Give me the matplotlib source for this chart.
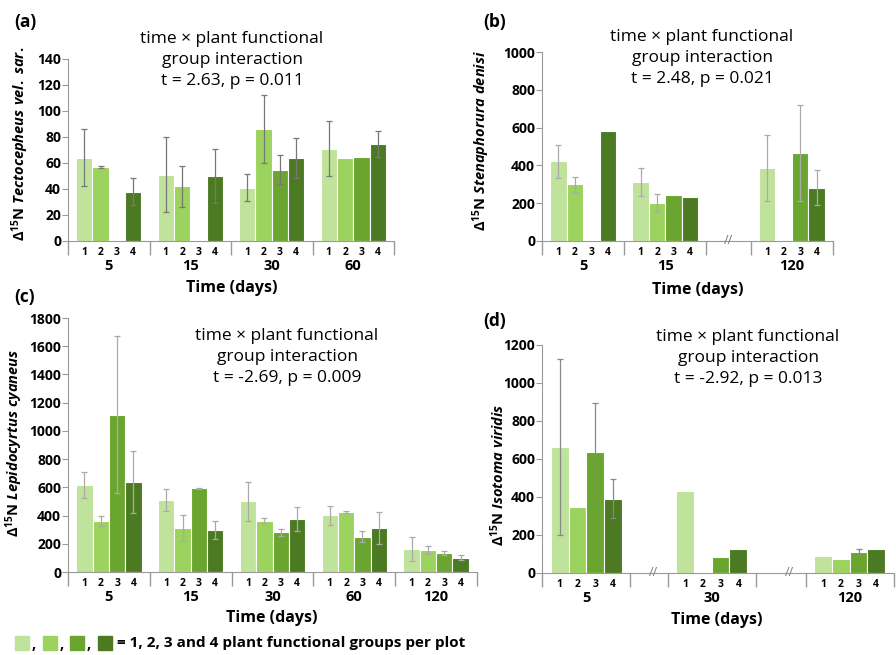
import numpy as np
import matplotlib
matplotlib.use('Agg')
import matplotlib.pyplot as plt
from matplotlib.patches import Rectangle

plt.rcParams['font.family'] = ['Open Sans', 'DejaVu Sans']
plt.rcParams['mathtext.fontset'] = 'custom'
plt.rcParams['mathtext.rm'] = 'Open Sans:bold'
plt.rcParams['mathtext.it'] = 'Open Sans:italic:bold'
plt.rcParams['mathtext.bf'] = 'Open Sans:bold'

nan = np.nan
colors = ['#bfe39a', '#9cd25e', '#6aa62f', '#4b7a22']
group_labels = ['1', '2', '3', '4']

# (a) Tectocepheus vel. sar.
a_days = ['5', '15', '30', '60']
a_mean = [[64, 57, nan, 38], [51, 42, nan, 50], [41, 86, 55, 64], [71, 64, 65, 75]]
a_err = [[22, 1, 0, 10.5], [29, 16, 0, 21], [10.5, 26, 11, 15.5], [21, 0, 0, 10]]

# (b) Stenaphorura denisi
b_days = ['5', '15', '120']
b_mean = [[421, 300, nan, 583], [312, 200, 242, 233], [385, nan, 465, 283]]
b_err = [[86, 39, 0, 0], [75, 47, 0, 0], [175, 0, 255, 95]]

# (c) Lepidocyrtus cyaneus
c_days = ['5', '15', '30', '60', '120']
c_mean = [[616, 359, 1114, 637], [510, 314, 593, 297], [500, 364, 281, 375],
          [401, 427, 250, 312], [164, 153, 135, 102]]
c_err = [[92, 35, 557, 220], [77, 92, 4, 66], [140, 20, 24, 86],
         [70, 8, 40, 113], [83, 28, 11, 16]]

# (d) Isotoma viridis
d_days = ['5', '30', '120']
d_mean = [[663, 348, 636, 392], [434, nan, 84, 128], [88, 76, 111, 128]]
d_err = [[464, 0, 258, 105], [0, 0, 0, 0], [0, 0, 15, 0]]

W, H = 896, 655
fig = plt.figure(figsize=(W / 100, H / 100), dpi=100)


def px(x, y):
    return x / W, 1 - y / H


def axes_px(left, top, right, bottom):
    return fig.add_axes([left / W, 1 - bottom / H, (right - left) / W, (bottom - top) / H])


def draw_panel(ax, days, mean, err, pos, ymax, ystep, breaks, errcolor):
    for g, x0 in enumerate(pos):
        for i in range(4):
            v = mean[g][i]
            if np.isnan(v):
                continue
            ax.bar(x0 + i, v, width=1, color=colors[i], edgecolor='white', linewidth=0.8)
            if err[g][i] > 0:
                ax.errorbar(x0 + i, v, yerr=err[g][i], color=errcolor, lw=0.9,
                            capsize=2, capthick=0.9)
        ax.annotate(days[g], xy=(x0 + 1.5, 0), xycoords=('data', 'axes fraction'),
                    xytext=(0, -18), textcoords='offset points', ha='center', va='center',
                    fontsize=10.5, fontweight='bold')

    centers = [x0 + i for x0 in pos for i in range(4)]
    ax.set_xticks(centers)
    ax.set_xticklabels(group_labels * len(pos), fontsize=7.5, fontweight='bold')
    ax.tick_params(axis='x', which='major', length=0, pad=4)
    bounds = sorted(set([x0 - 1 for x0 in pos] + [x0 + 4 for x0 in pos]))
    ax.set_xticks(bounds, minor=True)
    ax.tick_params(axis='x', which='minor', length=10, color='#999999', width=1)
    ax.set_xlim(bounds[0], bounds[-1])

    ax.set_ylim(0, ymax)
    ax.set_yticks(np.arange(0, ymax + 1, ystep))
    ax.tick_params(axis='y', length=4, color='#999999', labelsize=10, pad=1)
    for t in ax.get_yticklabels():
        t.set_fontweight('bold')

    for s in ['top', 'right']:
        ax.spines[s].set_visible(False)
    for s in ['left', 'bottom']:
        ax.spines[s].set_color('#999999')

    for b in breaks:
        ax.annotate('//', xy=(b, 0), xycoords=('data', 'axes fraction'), ha='center',
                    va='center', fontsize=9, color='#777777')


ax_a = axes_px(68, 59, 394, 241)
draw_panel(ax_a, a_days, a_mean, a_err, [0, 5, 10, 15], 140, 20, [], '#777777')

ax_b = axes_px(542, 52, 833, 241)
draw_panel(ax_b, b_days, b_mean, b_err, [0, 5, 12.7], 1000, 200, [10.35], '#aaaaaa')

ax_c = axes_px(68, 318, 477, 572)
draw_panel(ax_c, c_days, c_mean, c_err, [0, 5, 10, 15, 20], 1800, 200, [], '#aaaaaa')

ax_d = axes_px(542, 345, 894, 573)
draw_panel(ax_d, d_days, d_mean, d_err, [0, 7.1, 14.9], 1200, 200, [5.3, 13.0], '#888888')

# panel letters
for lab, x, y in [('(a)', 25, 22), ('(b)', 495, 22), ('(c)', 25, 297), ('(d)', 495, 321)]:
    fig.text(*px(x, y), lab, ha='center', va='center', fontsize=12.5, fontweight='bold')

# y labels
ylabs = [(r'$\Delta^{15}$N $\mathit{Tectocepheus\ vel.\ sar.}$', 20, 144),
         (r'$\Delta^{15}$N $\mathit{Stenaphorura\ denisi}$', 481, 141),
         (r'$\Delta^{15}$N $\mathit{Lepidocyrtus\ cyaneus}$', 14, 443),
         (r'$\Delta^{15}$N $\mathit{Isotoma\ viridis}$', 498, 475)]
for lab, x, y in ylabs:
    fig.text(*px(x, y), lab, rotation=90, ha='center', va='center', fontsize=10.5,
             fontweight='bold')

# x labels
for x, y in [(232, 288), (698, 290), (272, 618), (717, 620)]:
    fig.text(*px(x, y), 'Time (days)', ha='center', va='center', fontsize=11.5,
             fontweight='bold')

# statistics
stats = [('t = 2.63, p = 0.011', 232, 60), ('t = 2.48, p = 0.021', 702, 58),
         ('t = -2.69, p = 0.009', 287, 357), ('t = -2.92, p = 0.013', 748, 358)]
for s, x, y in stats:
    fig.text(*px(x, y), 'time \u00d7 plant functional\ngroup interaction\n' + s,
             ha='center', va='center', fontsize=12.5, linespacing=1.38)

# colour key
for i, c in enumerate(colors):
    x0 = 15 + i * 27.5
    fig.add_artist(Rectangle(px(x0, 650), 14 / W, 14 / H, transform=fig.transFigure,
                             color=c))
    if i < 3:
        fig.text(*px(x0 + 17, 645), ',', ha='left', va='center', fontsize=10.5,
                 fontweight='bold')
fig.text(*px(117, 643), '= 1, 2, 3 and 4 plant functional groups per plot', ha='left',
         va='center', fontsize=11, fontweight='bold')

fig.savefig('out.png', dpi=100)
